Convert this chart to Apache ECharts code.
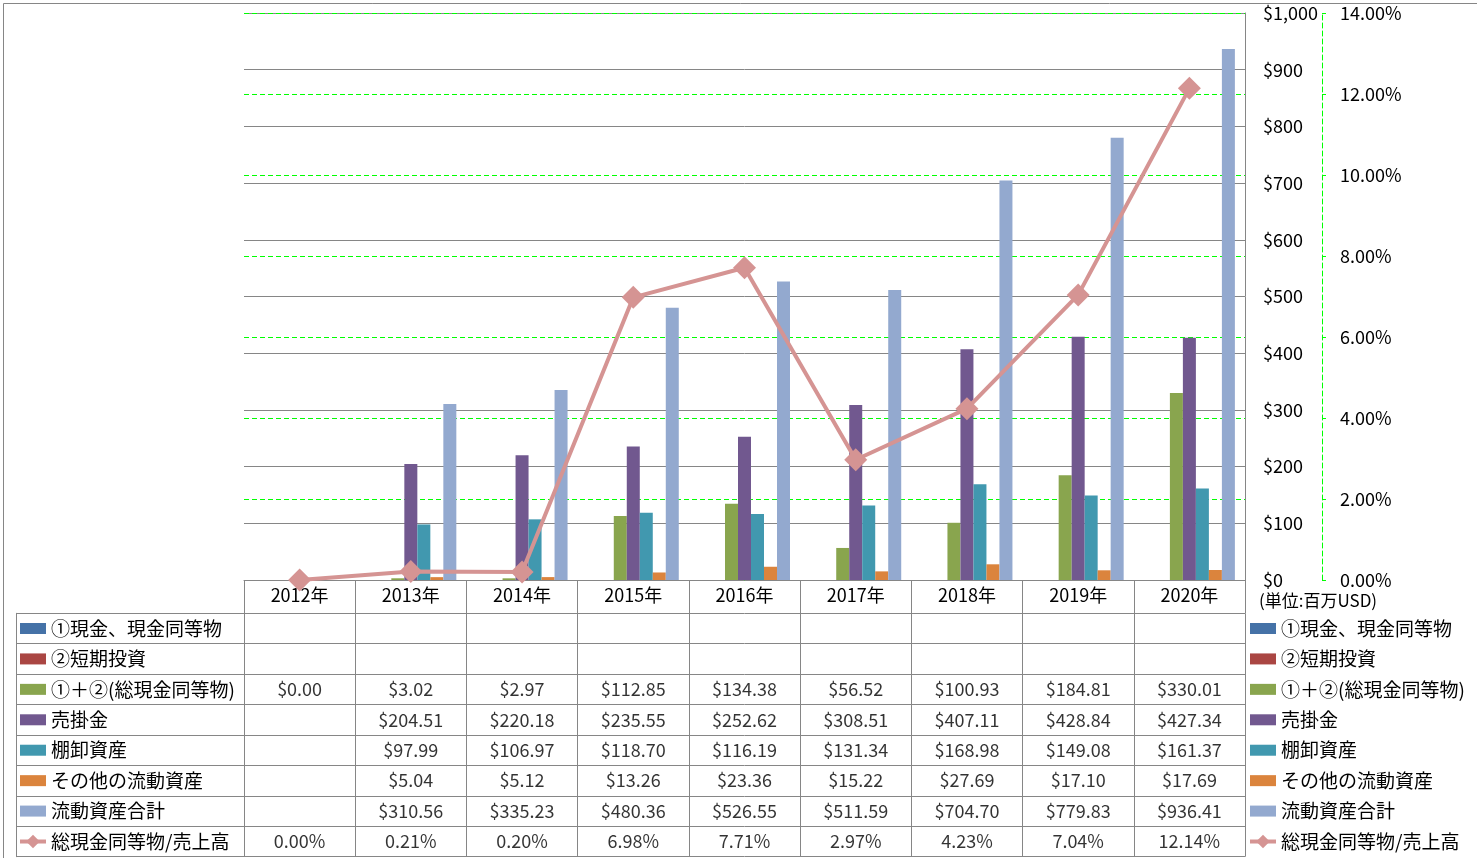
<!DOCTYPE html>
<html><head><meta charset="utf-8">
<script src="https://cdn.jsdelivr.net/npm/echarts/dist/echarts.min.js"></script>
<style>html,body{margin:0;padding:0;background:#fff}#c{width:1477px;height:858px}</style>
</head><body><div id="c"></div>
<script>
// ---- data ----
const years = ['2012年','2013年','2014年','2015年','2016年','2017年','2018年','2019年','2020年'];
const cashEq       = [null, null, null, null, null, null, null, null, null];
const shortInv     = [null, null, null, null, null, null, null, null, null];
const totalCash    = [0.00, 3.02, 2.97, 112.85, 134.38, 56.52, 100.93, 184.81, 330.01];
const receivables  = [null, 204.51, 220.18, 235.55, 252.62, 308.51, 407.11, 428.84, 427.34];
const inventory    = [null, 97.99, 106.97, 118.70, 116.19, 131.34, 168.98, 149.08, 161.37];
const otherCurrent = [null, 5.04, 5.12, 13.26, 23.36, 15.22, 27.69, 17.10, 17.69];
const totalCurrent = [null, 310.56, 335.23, 480.36, 526.55, 511.59, 704.70, 779.83, 936.41];
const cashToSales  = [0.00, 0.21, 0.20, 6.98, 7.71, 2.97, 4.23, 7.04, 12.14]; // percent
const seriesNames = ['①現金、現金同等物','②短期投資','①＋②(総現金同等物)','売掛金','棚卸資産','その他の流動資産','流動資産合計','総現金同等物/売上高'];
const usdAxis = {min: 0, max: 1000, interval: 100};
const pctAxis = {min: 0, max: 14, interval: 2};
const unitNote = '(単位:百万USD)';

// ---- styles ----
const colors = ['#4572A7','#AA4643','#89A54E','#71588F','#4198AF','#DB843D','#93A9CF','#D59493'];
const FONT = '"Noto Sans CJK JP","Noto Sans",sans-serif';
const GRAY = '#868686';
const LIME = '#00ff00';
const BAR_ICON = 'path://M0,0L0,0M0,17L0,17M0,3L26,3L26,14L0,14Z';

const barData = [cashEq, shortInv, totalCash, receivables, inventory, otherCurrent, totalCurrent];
const usd = v => '$' + v.toFixed(2);
const pct = v => v.toFixed(2) + '%';
const rowsData = barData.concat([cashToSales]);
const cells = [];
rowsData.forEach((row, r) => {
  row.forEach((v, c) => {
    if (v === null || v === undefined) return;
    cells.push([years[c], seriesNames[r], r === 7 ? pct(v) : usd(v)]);
  });
});

const series = barData.map((d, i) => ({
  name: seriesNames[i], type: 'bar', xAxisIndex: 0, yAxisIndex: 0,
  data: d, barWidth: 13, barGap: '0%', itemStyle: {color: colors[i]}, silent: true
}));
series.push({
  name: seriesNames[7], type: 'line', xAxisIndex: 0, yAxisIndex: 1,
  data: cashToSales, symbol: 'diamond', symbolSize: 23,
  lineStyle: {color: colors[7], width: 4}, itemStyle: {color: colors[7]}, silent: true, z: 5
});
series.push({
  name: 'table', type: 'scatter', xAxisIndex: 1, yAxisIndex: 2,
  data: cells, symbol: 'circle', symbolSize: 1, itemStyle: {color: 'rgba(0,0,0,0)'}, silent: true,
  label: {show: true, position: 'inside', formatter: p => p.value[2], color: '#000', fontSize: 18, fontFamily: FONT}
});

const legendData = seriesNames.map((n, i) => i < 7 ? {name: n, icon: BAR_ICON}
  : {name: n, lineStyle: {width: 4, color: colors[7]}, itemStyle: {color: colors[7]}});
const legendCommon = {
  orient: 'vertical', top: 618.5, height: 250, padding: 0, itemWidth: 26, itemHeight: 17, itemGap: 10.43,
  selectedMode: false, data: legendData,
  textStyle: {fontSize: 19, lineHeight: 20, color: '#000', fontFamily: FONT}
};

const chart = echarts.init(document.getElementById('c'), null, {renderer: 'canvas'});
chart.setOption({
  animation: false,
  backgroundColor: '#fff',
  textStyle: {fontFamily: FONT},
  color: colors,
  legend: [Object.assign({left: 18}, legendCommon), Object.assign({left: 1248}, legendCommon)],
  grid: [
    {left: 244, top: 13, width: 1001, height: 567, outerBoundsMode: 'none'},
    {left: 244, top: 613.3, width: 1001, height: 243.4, outerBoundsMode: 'none'},
    {left: 16, top: 613.3, width: 228, height: 243.4, outerBoundsMode: 'none'}
  ],
  xAxis: [
    {type: 'category', gridIndex: 0, data: years, position: 'bottom',
     axisLine: {show: true, lineStyle: {color: GRAY}},
     axisTick: {show: true, length: 33.3, lineStyle: {color: GRAY}},
     axisLabel: {color: '#000', fontSize: 18, margin: 6, fontFamily: FONT},
     splitLine: {show: false}},
    {type: 'category', gridIndex: 1, data: years,
     axisLine: {show: false}, axisTick: {show: false}, axisLabel: {show: false},
     splitLine: {show: true, lineStyle: {color: GRAY}}},
    {type: 'value', gridIndex: 2, show: false}
  ],
  yAxis: [
    {type: 'value', gridIndex: 0, position: 'right', min: usdAxis.min, max: usdAxis.max, interval: usdAxis.interval,
     axisLine: {show: true, lineStyle: {color: GRAY}}, axisTick: {show: false},
     axisLabel: {color: '#000', fontSize: 18, margin: 18, fontFamily: FONT,
       formatter: v => '$' + v.toLocaleString('en-US')},
     splitLine: {show: true, lineStyle: {color: GRAY, width: 1}}},
    {type: 'value', gridIndex: 0, position: 'right', offset: 77, min: pctAxis.min, max: pctAxis.max, interval: pctAxis.interval,
     axisLine: {show: true, lineStyle: {color: LIME, type: [5,3]}},
     axisTick: {show: true, length: 4, lineStyle: {color: LIME}},
     axisLabel: {color: '#000', fontSize: 18, margin: 18, fontFamily: FONT, formatter: v => v.toFixed(2) + '%'},
     splitLine: {show: true, lineStyle: {color: LIME, type: [5,3], width: 1}}},
    {type: 'category', gridIndex: 1, data: seriesNames, inverse: true,
     axisLine: {show: false}, axisTick: {show: false}, axisLabel: {show: false},
     splitLine: {show: true, lineStyle: {color: GRAY}}},
    {type: 'category', gridIndex: 2, data: seriesNames, inverse: true, position: 'left',
     axisLine: {show: true, lineStyle: {color: GRAY}}, axisTick: {show: false}, axisLabel: {show: false},
     splitLine: {show: true, lineStyle: {color: GRAY}}}
  ],
  graphic: [
    {type: 'rect', left: 1, top: 1, shape: {x: 0, y: 0, width: 1475, height: 855},
     style: {fill: 'none', stroke: GRAY, lineWidth: 1}, silent: true, z: 100},
    {type: 'text', left: 1259, top: 592, style: {text: unitNote, fill: '#000', font: '17px ' + FONT}, silent: true}
  ],
  series: series
});
</script></body></html>
